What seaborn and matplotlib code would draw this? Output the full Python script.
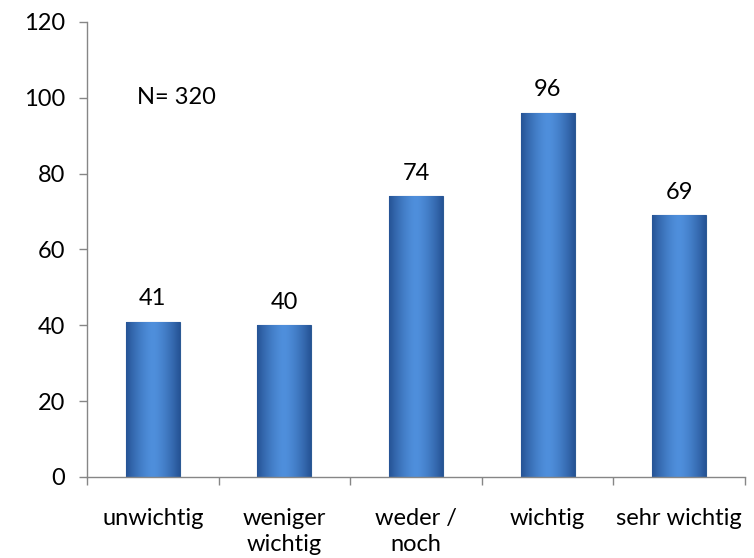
import numpy as np
import matplotlib
matplotlib.use("Agg")
import matplotlib.pyplot as plt
import seaborn as sns
import pandas as pd

categories = ["unwichtig", "weniger\nwichtig", "weder /\nnoch", "wichtig", "sehr wichtig"]
values = [41, 40, 74, 96, 69]
y_ticks = [0, 20, 40, 60, 80, 100, 120]
note = "N= 320"

sns.set_theme(style="white")
plt.rcParams['font.family'] = ['Lato', 'DejaVu Sans']

FS = 17
fig = plt.figure(figsize=(7.54, 5.58), dpi=100)
ax = fig.add_axes([0.1154, 0.1452, 0.988 - 0.1154, 0.9606 - 0.1452])

df = pd.DataFrame({"cat": categories, "val": values})
sns.barplot(data=df, x="cat", y="val", ax=ax, color="#3b73bf", width=0.41,
            edgecolor="#2c5a94", linewidth=0.8, saturation=1)

# gradient overlay for a bevelled look
grad = np.linspace(-1, 1, 64)
shade = 1 - np.abs(grad) ** 1.5
cmap = matplotlib.colors.LinearSegmentedColormap.from_list("b", ["#265496", "#4f8fdc"])
for p in ax.patches:
    x0, y0 = p.get_x(), p.get_y()
    w, h = p.get_width(), p.get_height()
    im = ax.imshow(shade[np.newaxis, :], cmap=cmap, aspect="auto",
                   extent=[x0, x0 + w, y0, y0 + h], zorder=p.get_zorder() + 0.1,
                   vmin=0, vmax=1)
    im.set_clip_path(p)
    ax.annotate(f"{int(h)}", (x0 + w / 2, h), xytext=(0, 9), textcoords="offset points",
                ha="center", va="bottom", fontsize=FS, color="black")

ax.set_xlim(-0.5, len(categories) - 0.5)
ax.set_ylim(0, 120)
ax.set_yticks(y_ticks)
ax.set_xticks(range(len(categories)))
ax.set_xticklabels(categories, fontsize=FS, color="black", linespacing=1.35)
ax.tick_params(axis="y", labelsize=FS, colors="black", length=6, width=1,
               direction="out", left=True, pad=10)
ax.tick_params(axis="y", color="#868686")
ax.tick_params(axis="x", length=0, pad=22)
ax.set_xticks(np.arange(-0.5, len(categories), 1.0), minor=True)
ax.tick_params(axis="x", which="minor", length=6, width=1, color="#868686", direction="out", bottom=True)
ax.set_xlabel("")
ax.set_ylabel("")

for s in ["top", "right"]:
    ax.spines[s].set_visible(False)
for s in ["left", "bottom"]:
    ax.spines[s].set_color("#868686")
    ax.spines[s].set_linewidth(1)

ax.text(-0.12, 100, note, fontsize=FS, color="black", ha="left", va="center")

fig.savefig("out.png", dpi=100)
